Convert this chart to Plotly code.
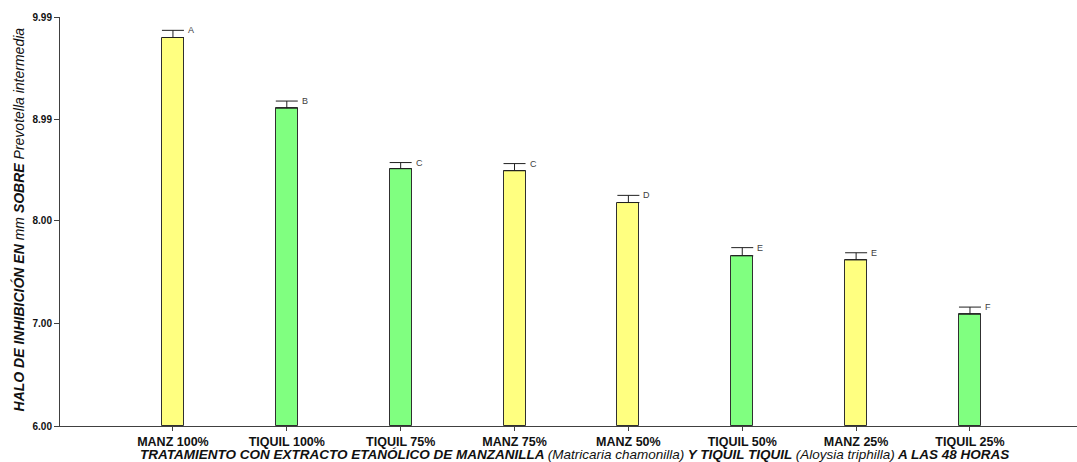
import plotly.graph_objects as go

categories = ["MANZ 100%", "TIQUIL 100%", "TIQUIL 75%", "MANZ 75%",
              "MANZ 50%", "TIQUIL 50%", "MANZ 25%", "TIQUIL 25%"]
means = [9.79, 9.10, 8.51, 8.49, 8.18, 7.66, 7.62, 7.09]
errors = [0.07, 0.07, 0.06, 0.07, 0.07, 0.08, 0.07, 0.07]
letters = ["A", "B", "C", "C", "D", "E", "E", "F"]
groups = ["MANZ", "TIQUIL", "TIQUIL", "MANZ", "MANZ", "TIQUIL", "MANZ", "TIQUIL"]
y_tickvals = [6.00, 7.00, 8.00, 8.99, 9.99]
y_ticktext = ["6.00", "7.00", "8.00", "8.99", "9.99"]

colors = {"MANZ": "#FFFF80", "TIQUIL": "#80FF80"}
xs = list(range(len(categories)))
FONT = "Arial, Liberation Sans"

fig = go.Figure()
fig.add_trace(go.Bar(
    x=xs, y=[m - 6.0 for m in means], base=6.0,
    width=0.193,
    marker=dict(color=[colors[g] for g in groups],
                line=dict(color="#303030", width=1)),
    error_y=dict(type="data", symmetric=False, array=errors,
                 arrayminus=[0] * len(errors), color="#202020",
                 thickness=1, width=11),
    showlegend=False, hoverinfo="skip",
))

for x, m, e, t in zip(xs, means, errors, letters):
    fig.add_annotation(x=x + 0.115, y=m + e, text=t, xref="x", yref="y",
                       xanchor="left", yanchor="middle", showarrow=False,
                       font=dict(family=FONT, size=9, color="#404040"))

fig.add_annotation(
    text="<b><i>TRATAMIENTO CON EXTRACTO ETANÓLICO DE MANZANILLA </i></b>"
         "<i>(Matricaria chamonilla)</i><b><i> Y TIQUIL TIQUIL </i></b>"
         "<i>(Aloysia triphilla)</i><b><i> A LAS 48 HORAS</i></b>",
    xref="paper", yref="paper", x=0.506, y=-0.0709,
    xanchor="center", yanchor="middle", showarrow=False,
    font=dict(size=13.5, family=FONT, color="#111111"))

fig.add_annotation(
    text="<b><i>HALO DE INHIBICIÓN EN </i></b><i>mm</i><b><i> SOBRE </i></b>"
         "<i>Prevotella intermedia</i>",
    xref="paper", yref="paper", x=-0.0413, y=0.505, textangle=-90,
    xanchor="center", yanchor="middle", showarrow=False,
    font=dict(size=14, family=FONT, color="#111111"))

fig.update_layout(
    width=1077, height=462,
    margin=dict(l=60, r=0, t=17, b=36),
    paper_bgcolor="white", plot_bgcolor="white",
    bargap=0,
    font=dict(family=FONT, color="#111111"),
    xaxis=dict(
        range=[-0.992, 7.94], tickvals=xs, ticktext=[f"<b>{c}</b>" for c in categories],
        showline=True, linecolor="#404040", linewidth=1,
        ticks="outside", ticklen=4, tickcolor="#404040",
        showgrid=False, zeroline=False, automargin=False,
        tickfont=dict(size=12.5, family=FONT, color="#111111"),
    ),
    yaxis=dict(
        range=[6.0, 9.99], tickvals=y_tickvals, ticktext=[f"<b>{t}</b>" for t in y_ticktext],
        showline=True, linecolor="#404040", linewidth=1,
        ticks="outside", ticklen=5, tickcolor="#404040",
        showgrid=False, zeroline=False, automargin=False,
        tickfont=dict(size=10, family=FONT, color="#111111"),
    ),
)

fig.write_html("out.html", config={"displayModeBar": False},
               post_script="document.body.style.margin='0';document.body.style.overflow='hidden';")
